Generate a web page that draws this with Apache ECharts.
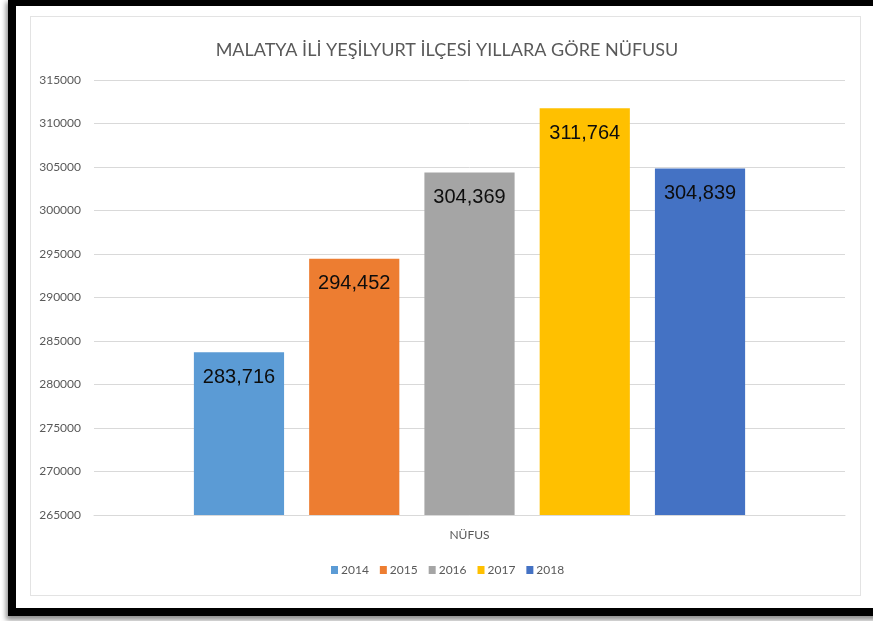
<!DOCTYPE html>
<html>
<head>
<meta charset="utf-8">
<script src="https://cdn.jsdelivr.net/npm/echarts@6/dist/echarts.min.js"></script>
<style>
html,body{margin:0;padding:0;background:#fff;width:873px;height:621px;overflow:hidden}
#frame{position:absolute;left:8px;top:-2px;width:900px;height:602px;border:8px solid #000;border-right:none;box-shadow:-2px 4px 5px rgba(0,0,0,0.45);background:#fff}
#inner{position:absolute;left:30px;top:16px;width:829px;height:578px;border:1px solid #e3e3e3}
#chart{position:absolute;left:0;top:0;width:873px;height:621px}
</style>
</head>
<body>
<div id="frame"></div>
<div id="inner"></div>
<div id="chart"></div>
<script>
const titleText = 'MALATYA İLİ YEŞİLYURT İLÇESİ YILLARA GÖRE NÜFUSU';
const categories = ['NÜFUS'];
const years = ['2014', '2015', '2016', '2017', '2018'];
const populations = [283716, 294452, 304369, 311764, 304839];
const colors = ['#5B9BD5', '#ED7D31', '#A5A5A5', '#FFC000', '#4472C4'];
const yMin = 265000, yMax = 315000, yStep = 5000;

const chart = echarts.init(document.getElementById('chart'), null, {renderer: 'canvas'});
const fmt = v => v.toString().replace(/\B(?=(\d{3})+(?!\d))/g, ',');

const series = years.map((y, i) => ({
  name: y,
  type: 'bar',
  data: [populations[i]],
  itemStyle: {color: colors[i]},
  barGap: '27.8%',
  barCategoryGap: '26.6%',
  label: {
    show: true,
    position: 'insideTop',
    distance: 15,
    formatter: p => fmt(p.value),
    color: '#0d0d0d',
    fontFamily: 'Liberation Sans, Arial, sans-serif',
    fontSize: 20
  }
}));

chart.setOption({
  animation: false,
  color: colors,
  title: {
    text: titleText,
    left: 442,
    top: 36,
    textAlign: 'center',
    textStyle: {color: '#595959', fontFamily: 'Lato', fontWeight: 'normal', fontSize: 18}
  },
  legend: {
    data: years,
    left: 331,
    top: 564,
    padding: 0,
    itemWidth: 7,
    itemHeight: 8,
    itemGap: 11,
    icon: 'rect',
    textStyle: {color: '#595959', fontFamily: 'Lato', fontSize: 12, padding: [0, 0, 0, -2]}
  },
  grid: {left: 94, right: 28, top: 80, bottom: 106, containLabel: false},
  xAxis: {
    type: 'category',
    data: categories,
    axisLine: {show: true, lineStyle: {color: '#d9d9d9'}},
    axisTick: {show: false},
    axisLabel: {color: '#595959', fontFamily: 'Lato', fontSize: 12, margin: 14}
  },
  yAxis: {
    type: 'value',
    min: yMin,
    max: yMax,
    interval: yStep,
    axisLine: {show: false},
    axisTick: {show: false},
    splitLine: {lineStyle: {color: '#d9d9d9', width: 1}},
    axisLabel: {color: '#595959', fontFamily: 'Lato', fontSize: 12, margin: 13, formatter: v => String(v)}
  },
  series: series
});
</script>
</body>
</html>
